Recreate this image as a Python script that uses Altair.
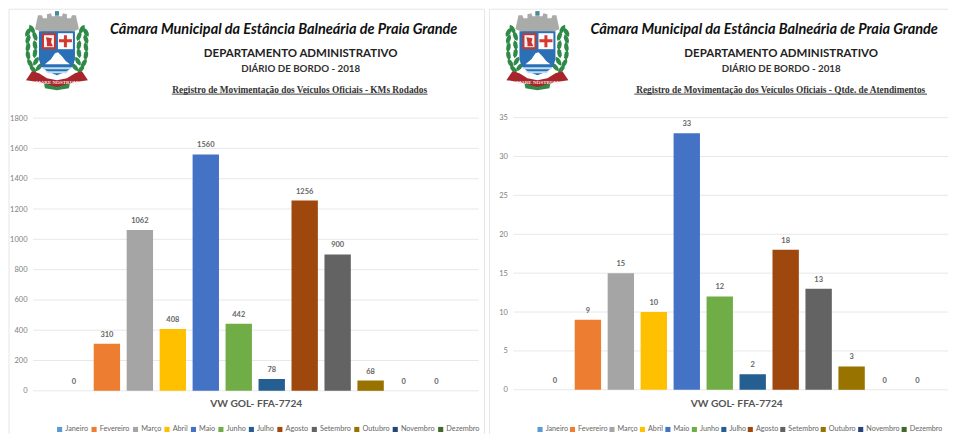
import math
import altair as alt
import pandas as pd

meses = ["Janeiro", "Fevereiro", "Março", "Abril", "Maio", "Junho", "Julho", "Agosto",
         "Setembro", "Outubro", "Novembro", "Dezembro"]
cores = ["#5B9BD5", "#ED7D31", "#A5A5A5", "#FFC000", "#4472C4", "#70AD47", "#255E91",
         "#9E480E", "#636363", "#997300", "#264478", "#43682B"]
kms = [0, 310, 1062, 408, 1560, 442, 78, 1256, 900, 68, 0, 0]
atendimentos = [0, 9, 15, 10, 33, 12, 2, 18, 13, 3, 0, 0]
ticks_km = [0, 200, 400, 600, 800, 1000, 1200, 1400, 1600, 1800]
ticks_at = [0, 5, 10, 15, 20, 25, 30, 35]
titulo = "Câmara Municipal da Estância Balneária de Praia Grande"
depto = "DEPARTAMENTO ADMINISTRATIVO"
diario = "DIÁRIO DE BORDO - 2018"
sub_km = "Registro de Movimentação dos Veículos Oficiais - KMs Rodados"
sub_at = "Registro de Movimentação dos Veículos Oficiais - Qtde. de Atendimentos"
veiculo = "VW GOL- FFA-7724"

one = pd.DataFrame({"a": [0]})
SANS = "Lato"
CX, CY, R = 48.0, 41.0, 39.0


def poly(points):
    # logo drawing: points are in panel pixels, converted to the [-1, 1] symbol box
    return "M" + "L".join(f"{(x - CX) / R:.3f},{(y - CY) / R:.3f}" for x, y in points) + "Z"


def leaf(cx, cy, ang, ln=5.2, wd=2.2):
    a = math.radians(ang)
    pts = []
    for t, w in [(-1, 0), (-0.5, 0.85), (0, 1), (0.5, 0.85), (1, 0), (0.5, -0.85), (0, -1), (-0.5, -0.85)]:
        px, py = t * ln, w * wd
        pts.append((cx + px * math.cos(a) - py * math.sin(a), cy + px * math.sin(a) + py * math.cos(a)))
    return pts


def logo_layers():
    shapes = []
    leaves_l = [(23, 20, 60), (19, 23, -60), (26, 27, 70), (19, 30, -70), (26, 36, 80), (19, 38, -80),
                (26, 44, 100), (19, 46, -100), (27, 52, 120), (21, 54, -120), (30, 58, 130), (24, 60, -130)]
    for x, y, a in leaves_l:
        shapes.append((leaf(x, y, a), "#2F8A47"))
        shapes.append((leaf(96 - x, y, -a), "#2F8A47"))
    # crown
    shapes.append(([(26, 20), (29, 6), (33, 6), (34, 9), (38, 9), (38, 5), (42, 4), (43, 7), (46, 7), (46, 2),
                    (50, 2), (50, 7), (53, 7), (54, 4), (58, 5), (58, 9), (62, 9), (63, 6), (67, 6), (70, 20),
                    (62, 23), (48, 24), (34, 23)], "#A9ABA9"))
    shapes.append(([(46, 2), (50, 2), (50, 6), (46, 6)], "#3E8E9C"))
    # shield
    shapes.append(([(30, 22), (66, 22), (66, 50), (64, 57), (58, 62), (48, 66), (38, 62), (32, 57), (30, 50)], "#2B6FB7"))
    shapes.append(([(33, 24), (47, 24), (47, 40), (33, 40)], "#C8362E"))
    shapes.append(([(35, 26), (45, 26), (45, 38), (35, 38)], "#F4F4F4"))
    shapes.append(([(37, 28), (43, 29), (42, 33), (44, 37), (38, 37), (38, 33)], "#C8362E"))
    shapes.append(([(49, 24), (64, 24), (64, 40), (49, 40)], "#FBFBFB"))
    shapes.append(([(55, 26), (58, 26), (58, 30), (63, 30), (63, 33), (58, 33), (58, 38), (55, 38), (55, 33),
                    (50, 33), (50, 30), (55, 30)], "#D5392F"))
    # mountain and water
    shapes.append(([(36, 55), (42, 50), (46, 44), (49, 43), (53, 47), (57, 52), (61, 55)], "#FFFFFF"))
    shapes.append(([(33, 58), (63, 58), (62, 60), (34, 60)], "#BFE0F2"))
    shapes.append(([(36, 62), (60, 62), (57, 64), (39, 64)], "#BFE0F2"))
    # ribbon
    shapes.append(([(17, 71), (23, 62), (30, 64), (38, 69), (48, 71), (58, 69), (66, 64), (73, 62), (79, 71),
                    (72, 72), (64, 73), (56, 77), (48, 78), (40, 77), (32, 73), (24, 72)], "#A8252B"))
    shapes.append(([(35, 74), (48, 78), (61, 74), (60, 79), (48, 81), (36, 79)], "#2F8A47"))
    layers = [alt.Chart(one).mark_point(shape=poly(p), filled=True, fill=c, opacity=1, stroke=None, size=(2 * R) ** 2)
              .encode(x=alt.value(CX), y=alt.value(CY)) for p, c in shapes]
    layers.append(alt.Chart(one).mark_text(text="MARE NOSTRUM", font="Liberation Serif", fontSize=5, fontWeight="bold",
                                           color="#F6E8E8").encode(x=alt.value(48), y=alt.value(73)))
    return layers


def label(txt, x, y, size, **kw):
    return alt.Chart(one).mark_text(text=txt, fontSize=size, align="center", baseline="middle", **kw).encode(
        x=alt.value(x), y=alt.value(y))


def line(x, x2, y, y2, color, width=1):
    return alt.Chart(one).mark_rule(color=color, strokeWidth=width).encode(
        x=alt.value(x), x2=alt.value(x2), y=alt.value(y), y2=alt.value(y2))


def painel(valores, ticks, subtitulo, ux1, ux2, wid, x0, ybase, ytop, frame_right, colpad, legfont):
    df = pd.DataFrame({"mes": meses, "valor": valores})
    dt = pd.DataFrame({"t": ticks})
    xs = alt.Scale(domain=meses, range=[x0, x0 + 396], paddingInner=0.2, paddingOuter=0.1)
    ys = alt.Scale(domain=[0, ticks[-1]], range=[ybase, ytop], nice=False)
    grid = alt.Chart(dt).mark_rule(color="#E8E8E8", strokeWidth=1).encode(
        y=alt.Y("t:Q", scale=ys,
                axis=alt.Axis(values=ticks, grid=False, domain=False, ticks=False, offset=-18, labelPadding=0,
                              title=None, labelFontSize=7.5, labelColor="#808080", labelFont=SANS, format="d")),
        x=alt.value(24), x2=alt.value(wid - 6 if frame_right else wid))
    bars = alt.Chart(df).mark_bar().encode(
        x=alt.X("mes:N", sort=meses, scale=xs, axis=None),
        y=alt.Y("valor:Q", scale=ys),
        color=alt.Color("mes:N", sort=meses, scale=alt.Scale(domain=meses, range=cores),
                        legend=alt.Legend(orient="none", legendX=47, legendY=417, direction="horizontal", columns=12,
                                          title=None, symbolType="square", symbolSize=26, symbolStrokeWidth=0,
                                          labelFontSize=legfont, labelColor="#666666", labelFont=SANS, gridAlign="each",
                                          labelOffset=2, columnPadding=colpad, padding=0)))
    vals = alt.Chart(df).mark_text(dy=-9, fontSize=7.5, fontWeight="bold", color="#666666", font=SANS).encode(
        x=alt.X("mes:N", sort=meses, scale=xs, axis=None),
        y=alt.Y("valor:Q", scale=ys),
        text=alt.Text("valor:Q"))
    header = [
        label(titulo, 275, 21, 14.5, font=SANS, fontStyle="italic", fontWeight="bold", color="#111111"),
        label(depto, 292, 45, 11.5, font=SANS, fontWeight="bold", color="#222222"),
        label(diario, 292, 60, 9.8, font=SANS, fontWeight="bold", color="#333333"),
        label(subtitulo, (ux1 + ux2) / 2, 80.5, 9.35, font="Liberation Serif", fontWeight="bold", color="#333333"),
        line(ux1, ux2, 85, 85, "#444444"),
        label(veiculo, 247.5, 395, 10.2, font=SANS, fontWeight="bold", color="#555555"),
    ]
    frame = [line(0, wid, 0, 0, "#E6E6E6"), line(0, 0, 0, 425, "#E6E6E6")]
    if frame_right:
        frame.append(line(wid, wid, 0, 425, "#E6E6E6"))
    return alt.layer(*frame, grid, bars, vals, *header, *logo_layers()).properties(width=wid, height=425)


esq = painel(kms, ticks_km, sub_km, 163, 419, 476, 48.5, 382, 109, True, 1.5, 7.3)
dir_ = painel(atendimentos, ticks_at, sub_at, 145, 438, 459, 49, 381, 108.5, False, 0.5, 7.2)

chart = (alt.hconcat(esq, dir_, spacing=3, padding=0, background="white")
         .resolve_scale(color="independent").resolve_legend(color="independent")
         .configure_view(stroke=None))
chart.save("out.html", embed_options={"renderer": "svg", "actions": False})
